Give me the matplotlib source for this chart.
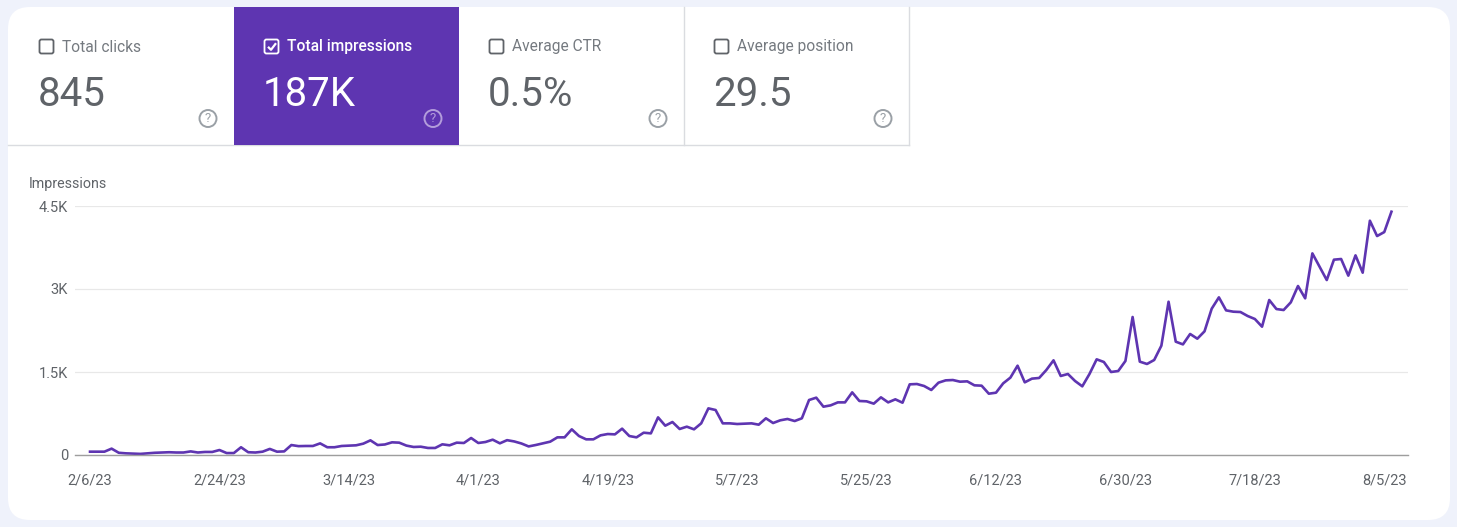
import numpy as np
import pandas as pd
import matplotlib
matplotlib.use('Agg')
import matplotlib.pyplot as plt
from matplotlib.patches import FancyBboxPatch, Circle

plt.rcParams['font.family'] = ['Roboto', 'DejaVu Sans']

# metric tiles on top of the report
metric_names = ['Total clicks', 'Total impressions', 'Average CTR', 'Average position']
metric_values = ['845', '187K', '0.5%', '29.5']
metric_selected = [False, True, False, False]

# daily impressions, starting 2/6/23
impressions = [
    60, 60, 60, 115, 40, 30, 25, 20, 30, 40,
    45, 50, 45, 45, 65, 45, 55, 55, 90, 35,
    35, 140, 50, 45, 60, 110, 60, 65, 180, 160,
    163, 163, 210, 140, 140, 163, 170, 175, 205, 265,
    180, 190, 229, 223, 170, 145, 150, 127, 127, 193,
    175, 223, 217, 307, 217, 235, 277, 211, 268, 245,
    208, 155, 181, 211, 241, 319, 319, 464, 343, 283,
    283, 355, 379, 373, 476, 343, 319, 403, 391, 680,
    530, 596, 470, 512, 464, 572, 843, 813, 572, 572,
    560, 566, 572, 548, 663, 578, 627, 651, 614, 663,
    994, 1036, 873, 897, 951, 951, 1132, 976, 970, 928,
    1042, 951, 1006, 945, 1277, 1283, 1247, 1175, 1307, 1349,
    1355, 1325, 1331, 1259, 1253, 1108, 1126, 1295, 1398, 1614,
    1313, 1380, 1392, 1536, 1711, 1428, 1464, 1337, 1241, 1464,
    1729, 1681, 1500, 1518, 1699, 2494, 1687, 1645, 1717, 1976,
    2770, 2048, 1999, 2187, 2102, 2235, 2644, 2849, 2614, 2590,
    2584, 2512, 2458, 2319, 2801, 2638, 2620, 2759, 3054, 2831,
    3644, 3403, 3162, 3530, 3542, 3241, 3608, 3295, 4234, 3957,
    4029, 4397,
]
start_date = '2023-02-06'
tick_step = 18
y_ticks = [0, 1500, 3000, 4500]
y_tick_labels = ['0', '1.5K', '3K', '4.5K']

purple = '#5e35b1'
grey_text = '#5f6368'
border = '#dadce0'

W, H = 1457, 527
fig = plt.figure(figsize=(W / 100, H / 100), dpi=100)
fig.patch.set_facecolor('#eff2fb')

# background layer in pixel coordinates
bg = fig.add_axes([0, 0, 1, 1])
bg.set_xlim(0, W)
bg.set_ylim(H, 0)
bg.axis('off')

bg.add_patch(FancyBboxPatch((8, 7), 1442, 513, boxstyle='round,pad=0,rounding_size=22',
                            fc='white', ec='none'))

tile_w = 225
for i, (name, val, sel) in enumerate(zip(metric_names, metric_values, metric_selected)):
    x0 = 8 + tile_w * i
    if sel:
        bg.add_patch(plt.Rectangle((x0 + 0.5, 7), tile_w, 137.5, fc=purple, ec='none', zorder=2))
        lab_c, val_c, box_c, help_c, weight = 'white', 'white', 'white', '#b39ddb', 'medium'
    else:
        lab_c, val_c, box_c, help_c, weight = '#757a80', '#5f6368', '#5f6368', '#9aa0a6', 'normal'
    # checkbox
    bg.add_patch(FancyBboxPatch((x0 + 31.5, 39.5), 14, 14, boxstyle='round,pad=0,rounding_size=2',
                                fc='none', ec=box_c, lw=1.3, zorder=3))
    if sel:
        bg.plot([x0 + 35, x0 + 38, x0 + 43], [46.8, 49.8, 43.2], color='white', lw=1.6,
                solid_capstyle='butt', zorder=4)
    bg.text(x0 + 54, 51.5, name, fontsize=11.2, color=lab_c, fontweight=weight,
            va='baseline', zorder=4)
    bg.text(x0 + 30, 106, val, fontsize=29, color=val_c, va='baseline', zorder=4)
    # help icon
    bg.add_patch(Circle((x0 + 200, 118.5), 8.5, fill=False, ec=help_c, lw=1.4, zorder=4))
    bg.text(x0 + 200, 119, '?', fontsize=9.5, color=help_c, ha='center', va='center', zorder=4)

# tile borders
bg.plot([8, 908.5], [144.5, 144.5], color=border, lw=1, zorder=1)
for xb in [683.5, 908.5]:
    bg.plot([xb, xb], [7, 144.5], color=border, lw=1, zorder=1)

bg.text(29, 184, 'Impressions', fontsize=10.3, color=grey_text, va='center')

# chart
ax = fig.add_axes([75 / W, 1 - 455 / H, 1333 / W, 249 / H])
ax.set_facecolor('none')
dates = pd.date_range(start_date, periods=len(impressions), freq='D')
ax.plot(dates, impressions, color=purple, lw=1.9, solid_joinstyle='round', clip_on=False)

ax.set_xlim(dates[0] - pd.Timedelta(days=2.09), dates[0] + pd.Timedelta(days=183.3))
ax.set_ylim(0, 4500)
ax.set_yticks(y_ticks, y_tick_labels)
tick_dates = dates[:181:tick_step]
ax.set_xticks(tick_dates, [f'{d.month}/{d.day}/{d:%y}' for d in tick_dates])
ax.tick_params(axis='both', length=0, labelsize=10.5, labelcolor=grey_text)
ax.tick_params(axis='y', pad=5)
ax.tick_params(axis='x', pad=13)
ax.grid(axis='y', color='#e8e8e8', lw=0.9)
ax.set_axisbelow(True)
for s in ['top', 'right', 'left']:
    ax.spines[s].set_visible(False)
ax.spines['bottom'].set_color('#9e9e9e')
ax.spines['bottom'].set_linewidth(1)

fig.savefig('out.png', dpi=100, facecolor=fig.get_facecolor())
